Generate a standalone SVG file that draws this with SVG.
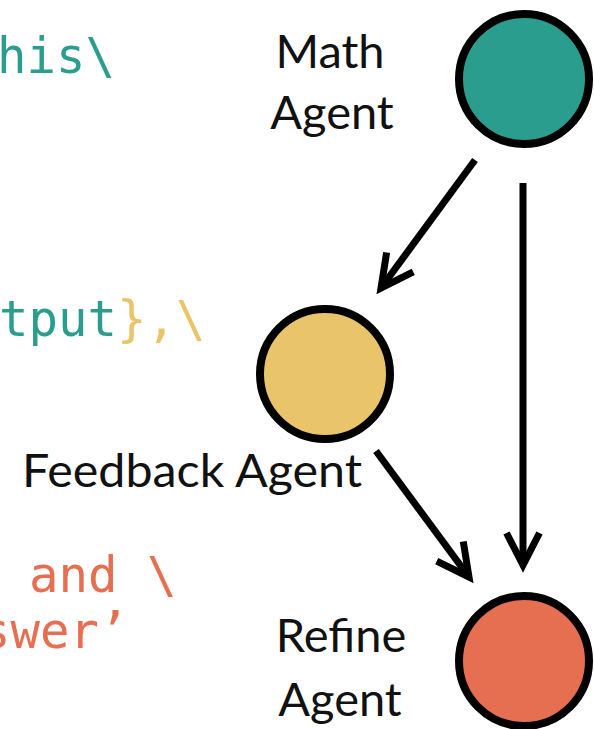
<svg xmlns="http://www.w3.org/2000/svg" width="594" height="729" viewBox="0 0 594 729">
<style>
.code{font-family:"DejaVu Sans Mono","Liberation Mono",monospace;font-size:49px;}
.teal{fill:#2a9d8f;}
.yel{fill:#e9c46a;}
.ora{fill:#e76f51;}
.lbl{font-family:Lato,"Open Sans",sans-serif;font-size:47px;fill:#111;}
.node{stroke:#000;stroke-width:8;}
.edge{stroke:#000;stroke-width:7;fill:none;}
</style>
<defs>
<marker id="ah" markerUnits="userSpaceOnUse" viewBox="-45 -25 55 50" markerWidth="55" markerHeight="50" refX="0" refY="0" orient="auto">
<path d="M-32,-16.5 L0,0 L-32,16.5" fill="none" stroke="#000" stroke-width="7" stroke-linejoin="miter"/>
</marker>
</defs>
<g id="code">
<text class="code teal" x="-3" y="73">his\</text>
<text class="code" x="-1" y="336"><tspan class="teal">tput</tspan><tspan class="yel">},\</tspan></text>
<text class="code ora" x="29" y="592">and \</text>
<text class="code ora" x="-19" y="648">swer’</text>
</g>
<g id="connectors">
<line class="edge" x1="475" y1="160" x2="381" y2="288" marker-end="url(#ah)"/>
<line class="edge" x1="523" y1="183" x2="523" y2="565" marker-end="url(#ah)"/>
<line class="edge" x1="376" y1="451" x2="469" y2="577" marker-end="url(#ah)"/>
</g>
<g id="math-agent">
<circle class="node" cx="524" cy="79" r="65" fill="#2a9d8f"/>
<text class="lbl" x="330" y="68" text-anchor="middle">Math</text>
<text class="lbl" x="332" y="129" text-anchor="middle">Agent</text>
</g>
<g id="feedback-agent">
<circle class="node" cx="325" cy="374" r="65" fill="#e9c46a"/>
<text class="lbl" x="22" y="487" textLength="340" lengthAdjust="spacingAndGlyphs">Feedback Agent</text>
</g>
<g id="refine-agent">
<circle class="node" cx="524" cy="661" r="65" fill="#e76f51"/>
<text class="lbl" x="341" y="652" text-anchor="middle">Refine</text>
<text class="lbl" x="340" y="716" text-anchor="middle">Agent</text>
</g>
</svg>
